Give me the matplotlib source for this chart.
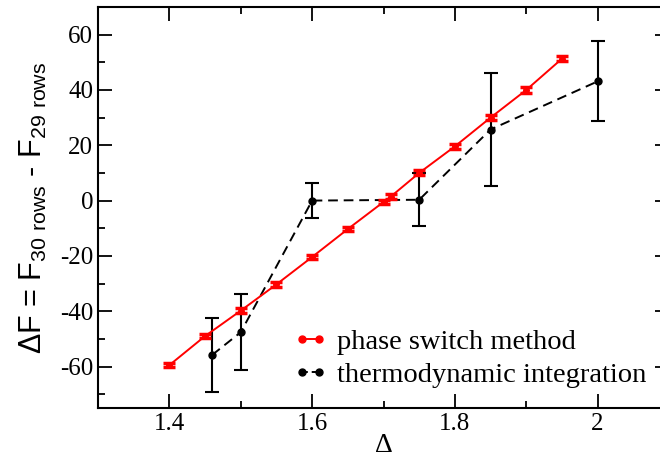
import matplotlib
matplotlib.use("Agg")
import matplotlib.pyplot as plt
from matplotlib.ticker import MultipleLocator
from matplotlib.lines import Line2D

# Data
ps_x = [1.40, 1.45, 1.50, 1.55, 1.60, 1.65, 1.70, 1.71, 1.75, 1.80, 1.85, 1.90, 1.95]
ps_y = [-59.5, -49.0, -39.8, -30.3, -20.4, -10.3, -0.5, 1.4, 10.0, 19.6, 30.0, 40.0, 51.3]
ps_err = [0.8, 0.8, 0.9, 0.8, 0.8, 0.8, 0.8, 1.0, 0.9, 0.8, 0.9, 1.0, 1.0]

ti_x = [1.46, 1.50, 1.60, 1.75, 1.85, 2.00]
ti_y = [-55.8, -47.6, 0.0, 0.3, 25.7, 43.1]
ti_err = [13.4, 13.8, 6.2, 9.5, 20.5, 14.5]

xticks = [1.4, 1.6, 1.8, 2.0]
xticklabels = ["1.4", "1.6", "1.8", "2"]
yticks = [-60, -40, -20, 0, 20, 40, 60]
yticklabels = ["-60", "-40", "-20", "0", "20", "40", "60"]

plt.rcParams['font.family'] = ['Liberation Serif', 'DejaVu Serif']
plt.rcParams['mathtext.default'] = 'regular'

fig = plt.figure(figsize=(6.6, 4.61), dpi=100)
ax = fig.add_axes([98/660, 1 - 408/461, (669-98)/660, (408-7)/461])

ax.errorbar(ps_x, ps_y, yerr=ps_err, color='red', lw=1.4, marker='o', ms=4,
            capsize=4, capthick=2.5, elinewidth=2, zorder=3)
ax.errorbar(ti_x, ti_y, yerr=ti_err, color='black', lw=1.4, ls='--', dashes=(5, 3),
            marker='o', ms=5, capsize=5, capthick=1.5, elinewidth=1.5, zorder=2)

ax.set_xlim(1.3, 2.1)
ax.set_ylim(-75, 70)
ax.set_xticks(xticks)
ax.set_xticklabels(xticklabels)
ax.set_yticks(yticks)
ax.set_yticklabels(yticklabels)
ax.xaxis.set_minor_locator(MultipleLocator(0.1))
ax.yaxis.set_minor_locator(MultipleLocator(10))
ax.tick_params(which='both', direction='in', top=True, right=True, width=1.3, labelsize=18)
ax.tick_params(which='major', length=10)
ax.tick_params(which='minor', length=5)
for s in ax.spines.values():
    s.set_linewidth(1.5)

ax.set_xlabel('Δ', fontsize=20, labelpad=-1)
ax.set_ylabel(r'$\Delta$F = F$_{30\ rows}$ - F$_{29\ rows}$', fontsize=22,
              family=['Liberation Sans', 'DejaVu Sans'], labelpad=8)

handles = [
    Line2D([], [], color='red', lw=1.4, marker='o', ms=5),
    Line2D([], [], color='black', lw=1.4, ls='--', dashes=(3, 2), marker='o', ms=5),
]
labels = ['phase switch method', 'thermodynamic integration']
leg = ax.legend(handles, labels, loc='lower right', frameon=False, fontsize=20.5,
                numpoints=2, handlelength=1.2, handletextpad=0.35, labelspacing=0.25,
                bbox_to_anchor=(0.996, 0.0), borderpad=0.2)
fig.savefig('out.png', dpi=100)
